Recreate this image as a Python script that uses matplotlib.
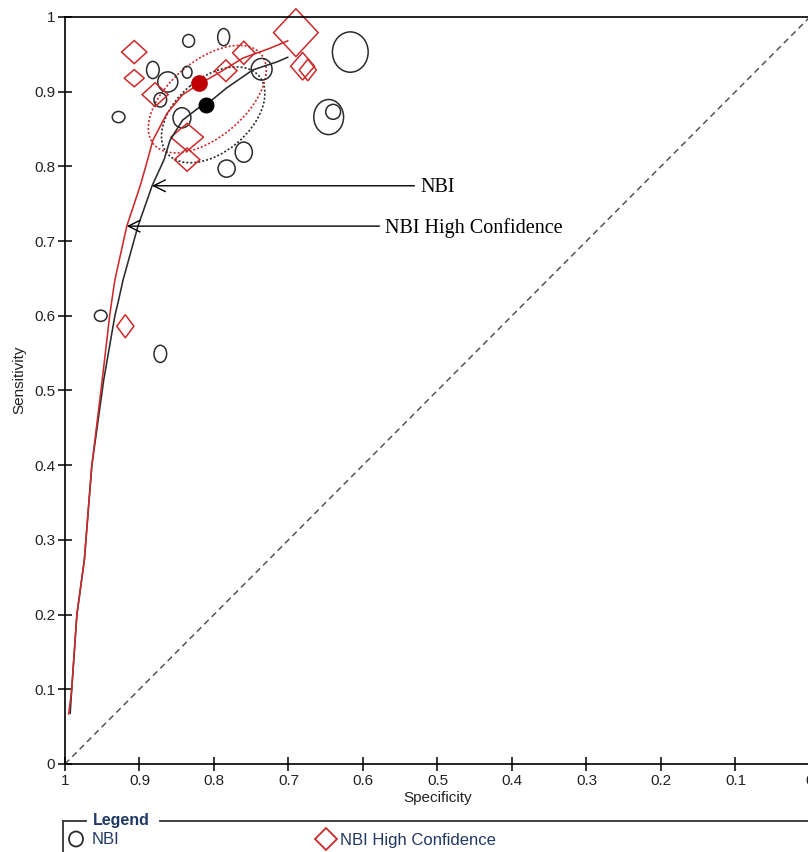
import matplotlib.pyplot as plt
from matplotlib.patches import Ellipse, Polygon
import numpy as np

plt.rcParams['font.family'] = ['Liberation Sans', 'DejaVu Sans']

# Studies: NBI (circles), width ~ specificity weight, height ~ sensitivity weight
nbi_spec = [0.834, 0.787, 0.617, 0.882, 0.862, 0.836, 0.736, 0.872, 0.928, 0.843, 0.646, 0.640, 0.760, 0.783, 0.952, 0.872]
nbi_sens = [0.968, 0.973, 0.953, 0.929, 0.913, 0.926, 0.930, 0.889, 0.866, 0.865, 0.866, 0.873, 0.819, 0.797, 0.600, 0.549]
nbi_w = [0.016, 0.016, 0.048, 0.017, 0.027, 0.013, 0.028, 0.017, 0.017, 0.024, 0.040, 0.020, 0.023, 0.023, 0.017, 0.017]
nbi_h = [0.017, 0.023, 0.054, 0.023, 0.027, 0.016, 0.029, 0.019, 0.015, 0.027, 0.047, 0.020, 0.027, 0.023, 0.015, 0.023]

# Studies: NBI High Confidence (diamonds)
hc_spec = [0.907, 0.907, 0.879, 0.784, 0.760, 0.690, 0.681, 0.674, 0.836, 0.836, 0.919]
hc_sens = [0.953, 0.918, 0.896, 0.928, 0.952, 0.979, 0.934, 0.929, 0.839, 0.809, 0.586]
hc_w = [0.034, 0.027, 0.035, 0.030, 0.030, 0.060, 0.032, 0.023, 0.044, 0.034, 0.023]
hc_h = [0.031, 0.023, 0.032, 0.029, 0.031, 0.064, 0.037, 0.029, 0.037, 0.031, 0.031]

# SROC curves
nbi_curve_spec = [0.993, 0.991, 0.984, 0.974, 0.964, 0.948, 0.933, 0.928, 0.922, 0.902, 0.883, 0.867, 0.859, 0.842, 0.821, 0.811, 0.783, 0.748, 0.715, 0.701]
nbi_curve_sens = [0.068, 0.099, 0.200, 0.273, 0.399, 0.514, 0.600, 0.621, 0.648, 0.720, 0.774, 0.809, 0.835, 0.862, 0.878, 0.882, 0.905, 0.929, 0.940, 0.946]
hc_curve_spec = [0.995, 0.991, 0.984, 0.974, 0.964, 0.950, 0.940, 0.937, 0.933, 0.917, 0.899, 0.889, 0.882, 0.863, 0.842, 0.820, 0.792, 0.761, 0.725, 0.701]
hc_curve_sens = [0.067, 0.099, 0.200, 0.273, 0.399, 0.514, 0.600, 0.621, 0.648, 0.720, 0.774, 0.809, 0.835, 0.871, 0.896, 0.910, 0.926, 0.945, 0.958, 0.968]

# Summary points and 95% confidence regions (centre, width, height, angle)
nbi_summary = (0.811, 0.882)
hc_summary = (0.820, 0.912)
nbi_region = (0.801, 0.869, 0.161, 0.099, 140)
hc_region = (0.809, 0.890, 0.188, 0.102, 140)

# rotulos das curvas: texto, ponta da seta, inicio da seta
labels = ['NBI', 'NBI High Confidence']
label_tip = [(0.883, 0.774), (0.917, 0.720)]
label_start = [(0.531, 0.774), (0.578, 0.720)]

ticks = [0, 0.1, 0.2, 0.3, 0.4, 0.5, 0.6, 0.7, 0.8, 0.9, 1]
tick_labels = ['0', '0.1', '0.2', '0.3', '0.4', '0.5', '0.6', '0.7', '0.8', '0.9', '1']

BLACK = '#2b2b2b'
RED = '#cc2a2a'
NAVY = '#203864'

fig = plt.figure(figsize=(8.08, 8.52), dpi=100)
ax = fig.add_axes([0.0804, 0.1033, 0.922, 0.8768])
ax.set_xlim(1, 0)
ax.set_ylim(0, 1)

# diagonale
ax.plot([1, 0], [0, 1], ls=(0, (4, 2.8)), color='#555555', lw=1.1)

# curvas SROC
ax.plot(nbi_curve_spec, nbi_curve_sens, color=BLACK, lw=1.15)
ax.plot(hc_curve_spec, hc_curve_sens, color=RED, lw=1.15)

# regioes de confianca
for reg, col in [(nbi_region, BLACK), (hc_region, RED)]:
    ax.add_patch(Ellipse((reg[0], reg[1]), reg[2], reg[3], angle=reg[4], fill=False,
                         ec=col, ls=(0, (1.2, 1.2)), lw=1.2))

# estudos
for s, se, w, h in zip(nbi_spec, nbi_sens, nbi_w, nbi_h):
    ax.add_patch(Ellipse((s, se), w, h, fill=False, ec=BLACK, lw=1.1, clip_on=False))
for s, se, w, h in zip(hc_spec, hc_sens, hc_w, hc_h):
    pts = [(s - w / 2, se), (s, se + h / 2), (s + w / 2, se), (s, se - h / 2)]
    ax.add_patch(Polygon(pts, closed=True, fill=False, ec=RED, lw=1.1, clip_on=False))

# pontos sumario
ax.plot(*nbi_summary, 'o', ms=10.5, color='black', zorder=5)
ax.plot(*hc_summary, 'o', ms=11, color='#c00000', zorder=5)

# setas com rotulos
for txt, tip, start in zip(labels, label_tip, label_start):
    ax.annotate('', xy=tip, xytext=start,
                arrowprops=dict(arrowstyle='->,head_length=0.6,head_width=0.3',
                                mutation_scale=14, color='black', lw=1.0,
                                shrinkA=0, shrinkB=0))
    ax.text(start[0] - 0.008, start[1] - 0.002, txt, ha='left', va='center',
            fontsize=14.5, family='Liberation Serif')

ax.set_xticks(ticks)
ax.set_xticklabels(tick_labels)
ax.set_yticks(ticks)
ax.set_yticklabels(tick_labels)
ax.tick_params(direction='inout', length=10, width=1.1, labelsize=11, pad=2,
               labelcolor='#222222')
for sp in ax.spines.values():
    sp.set_linewidth(1.2)

ax.set_xlabel('Specificity', fontsize=11, color='#222222')
ax.xaxis.set_label_coords(0.5, -0.036)
ax.set_ylabel('Sensitivity', fontsize=11, color='#222222')
ax.yaxis.set_label_coords(-0.052, 0.514)

# legenda desenhada a mao, em coordenadas de pixel
lg = fig.add_axes([0, 0, 1, 1])
lg.set_xlim(0, 808)
lg.set_ylim(852, 0)
lg.axis('off')
lg.patch.set_alpha(0)
lg.plot([63, 63], [821, 852], color='#333333', lw=1.3, clip_on=False)
lg.plot([63, 86], [821, 821], color='#333333', lw=1.3)
lg.plot([160, 808], [821, 821], color='#333333', lw=1.3)
lg.text(93, 820, 'Legend', fontsize=11.5, fontweight='bold', color=NAVY, va='center')
lg.add_patch(Ellipse((76, 839), 14, 15, fill=False, ec=BLACK, lw=1.3))
lg.text(92, 840, 'NBI', fontsize=12, color=NAVY, va='center')
lg.add_patch(Polygon([(315, 839), (326, 828), (337, 839), (326, 850)], closed=True,
                     fill=False, ec=RED, lw=1.3))
lg.text(340, 840, 'NBI High Confidence', fontsize=12, color=NAVY, va='center')

plt.savefig('out.png', dpi=100)
